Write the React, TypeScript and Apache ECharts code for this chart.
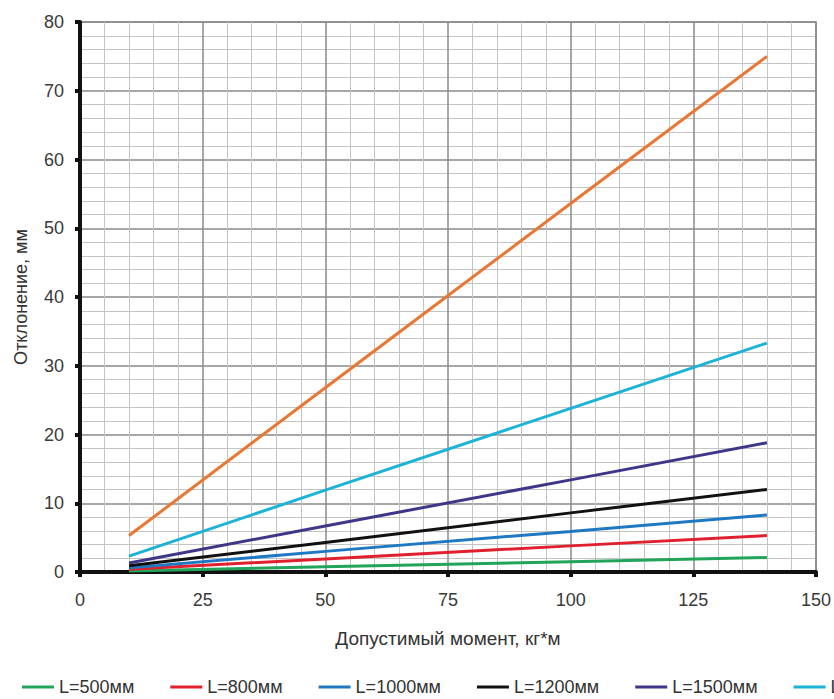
import React, { useEffect, useRef } from "react";
import * as echarts from "echarts";

const xPoints = [10, 50, 100, 140];
const seriesNames = ["L=500мм", "L=800мм", "L=1000мм", "L=1200мм", "L=1500мм", "L=2000мм", "L=3000мм"];
const seriesColors = ["#22A45A", "#E0202F", "#1F79C2", "#111111", "#3E3789", "#1DB3D8", "#EA7631"];
const vals500 = [0.15, 0.75, 1.5, 2.1];
const vals800 = [0.4, 1.9, 3.8, 5.3];
const vals1000 = [0.6, 3.0, 5.9, 8.3];
const vals1200 = [0.9, 4.3, 8.6, 12.0];
const vals1500 = [1.3, 6.7, 13.4, 18.8];
const vals2000 = [2.3, 11.9, 23.8, 33.3];
const vals3000 = [5.3, 26.8, 53.6, 75.0];
const allValues = [vals500, vals800, vals1000, vals1200, vals1500, vals2000, vals3000];

const FONT = "Liberation Sans, Arial, sans-serif";

export default function App() {
  const ref = useRef<HTMLDivElement>(null);
  useEffect(() => {
    if (!ref.current) return;
    const chart = echarts.init(ref.current, undefined, { renderer: "svg" });
    chart.setOption({
      animation: false,
      backgroundColor: "#ffffff",
      textStyle: { fontFamily: FONT },
      grid: { left: 80, right: 16, top: 22, bottom: 127, show: true, borderColor: "#8a8a8a", borderWidth: 1.5 },
      legend: {
        left: 17,
        top: 673,
        width: 1400,
        itemWidth: 32,
        itemHeight: 3,
        itemGap: 36,
        icon: "rect",
        textStyle: { fontSize: 18, color: "#333", fontFamily: FONT },
        data: seriesNames,
      },
      xAxis: {
        type: "value",
        min: 0,
        max: 150,
        interval: 25,
        name: "Допустимый момент, кг*м",
        nameLocation: "middle",
        nameGap: 57,
        nameTextStyle: { fontSize: 19, color: "#333", fontFamily: FONT },
        axisLine: { show: true, onZero: false, lineStyle: { color: "#111", width: 4 } },
        axisTick: { show: true, length: 5, lineStyle: { color: "#111", width: 4 } },
        axisLabel: { fontSize: 18, color: "#3a3a3a", margin: 19, fontFamily: FONT },
        splitLine: { show: true, lineStyle: { color: "#8a8a8a", width: 1.5 } },
        minorTick: { show: false, splitNumber: 5 },
        minorSplitLine: { show: true, lineStyle: { color: "#c4c4c4", width: 1 } },
      },
      yAxis: {
        type: "value",
        min: 0,
        max: 80,
        interval: 10,
        name: "Отклонение, мм",
        nameLocation: "middle",
        nameGap: 50,
        nameTextStyle: { fontSize: 18, color: "#333", fontFamily: FONT },
        axisLine: { show: true, onZero: false, lineStyle: { color: "#111", width: 4 } },
        axisTick: { show: true, length: 5, lineStyle: { color: "#111", width: 4 } },
        axisLabel: { fontSize: 18, color: "#3a3a3a", margin: 16, fontFamily: FONT },
        splitLine: { show: true, lineStyle: { color: "#8a8a8a", width: 1.5 } },
        minorTick: { show: false, splitNumber: 5 },
        minorSplitLine: { show: true, lineStyle: { color: "#c4c4c4", width: 1 } },
      },
      series: seriesNames.map((name, i) => ({
        name,
        type: "line",
        showSymbol: false,
        symbol: "none",
        color: seriesColors[i],
        lineStyle: { width: 3, color: seriesColors[i] },
        data: xPoints.map((x, j) => [x, allValues[i][j]]),
      })),
    });
    return () => chart.dispose();
  }, []);
  return <div ref={ref} style={{ width: 834, height: 699, position: "absolute", left: 0, top: 0 }} />;
}
